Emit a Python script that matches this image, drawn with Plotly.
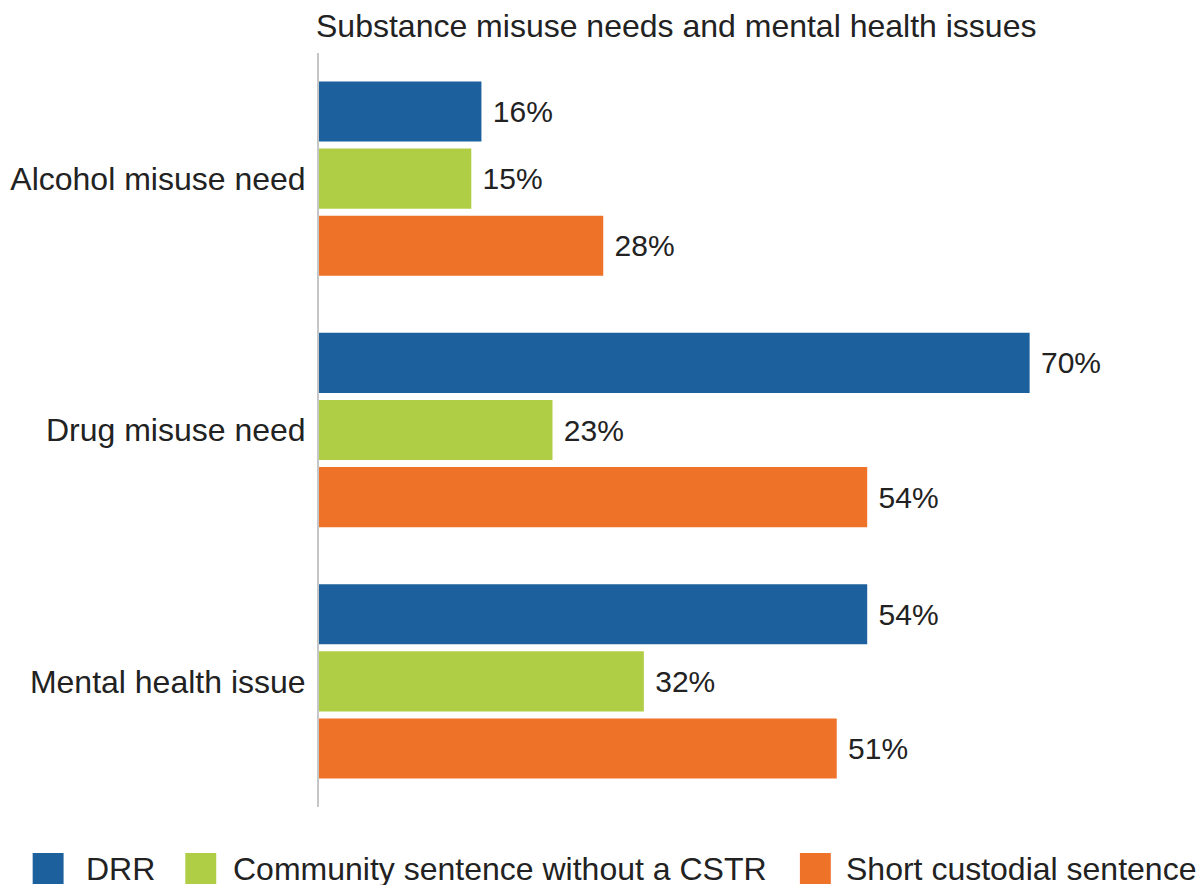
import plotly.graph_objects as go

categories = ["Alcohol misuse need", "Drug misuse need", "Mental health issue"]
series_names = ["DRR", "Community sentence without a CSTR", "Short custodial sentence"]
drr = [16, 70, 54]
community = [15, 23, 32]
custodial = [28, 54, 51]
colors = ["#1C609D", "#B0CE45", "#EF7229"]
title_text = "Substance misuse needs and mental health issues"

W, H = 1198, 885
L, R, T, B = 317, 10, 53, 78
FONT = "Liberation Sans, Arial, sans-serif"
TXT = "#222222"
FS = 32
VFS = 30

fig = go.Figure()
for name, vals, col in zip(series_names, [drr, community, custodial], colors):
    fig.add_trace(go.Bar(
        y=categories, x=vals, name=name, orientation="h",
        marker=dict(color=col, line=dict(width=0)),
        text=vals, texttemplate=" %{x}%", textposition="outside",
        textfont=dict(size=VFS, color=TXT, family=FONT),
        cliponaxis=False, showlegend=False,
    ))

fig.update_layout(
    width=W, height=H,
    margin=dict(l=L, r=R, t=T, b=B),
    paper_bgcolor="white", plot_bgcolor="white",
    barmode="group", bargap=0.199, bargroupgap=0.104,
    font=dict(family=FONT, color=TXT),
    title=dict(text=title_text, x=(L - 1) / W, xanchor="left",
               y=1 - 26 / H, yanchor="middle",
               font=dict(size=FS, color=TXT, family=FONT)),
)
fig.update_xaxes(range=[0, 85.6], visible=False, showgrid=False, zeroline=False)
fig.update_yaxes(categoryorder="array", categoryarray=categories,
                 range=[2.5, -0.5], showgrid=False, zeroline=False,
                 showline=True, linecolor="#C4C6C8", linewidth=2,
                 ticks="", ticklabelstandoff=5,
                 tickfont=dict(size=FS, color=TXT, family=FONT))

# legend drawn manually (large square swatches)
plot_h = H - T - B
def py(ypix):
    return (H - B - ypix) / plot_h
def px(xpix):
    return (xpix - L) / (W - L - R)

legend_items = [(30, 83), (183, 231), (799, 845)]
for (sx, tx), name, col in zip(legend_items, series_names, colors):
    fig.add_shape(type="rect", xref="paper", yref="paper",
                  x0=px(sx), x1=px(sx + 31), y0=py(884), y1=py(853),
                  fillcolor=col, line=dict(width=0))
    fig.add_annotation(text=name, xref="paper", yref="paper",
                       x=px(tx - 2), y=py(869), xanchor="left", yanchor="middle",
                       showarrow=False, font=dict(size=FS, color=TXT, family=FONT))

fig.write_html("out.html", config={"displayModeBar": False},
               post_script="document.body.style.margin='0px';document.body.style.overflow='hidden';")
